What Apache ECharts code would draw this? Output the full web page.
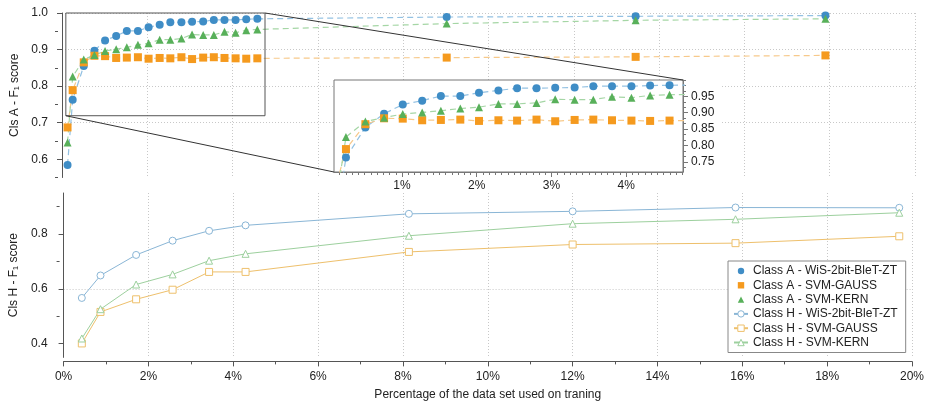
<!DOCTYPE html>
<html><head><meta charset="utf-8">
<script src="https://cdn.jsdelivr.net/npm/echarts@6/dist/echarts.min.js"></script>
<style>html,body{margin:0;padding:0;background:#fff}#c{width:927px;height:406px}</style>
</head><body><div id="c"></div>
<script>
// ---------- data ----------
const seriesNames = [
  'Class A - WiS-2bit-BleT-ZT', 'Class A - SVM-GAUSS', 'Class A - SVM-KERN',
  'Class H - WiS-2bit-BleT-ZT', 'Class H - SVM-GAUSS', 'Class H - SVM-KERN'
];
// Class A (top panel)
const xClassA = [0.13, 0.25, 0.51, 0.76, 1.01, 1.27, 1.52, 1.78, 2.03, 2.29, 2.54, 2.80, 3.05, 3.31, 3.56, 3.81, 4.07, 4.32, 4.58, 9.02, 13.45, 17.90];
const wisA   = [0.584, 0.763, 0.855, 0.897, 0.925, 0.937, 0.951, 0.951, 0.961, 0.968, 0.975, 0.975, 0.976, 0.977, 0.981, 0.981, 0.981, 0.983, 0.984, 0.989, 0.991, 0.993];
const gaussA = [0.687, 0.789, 0.865, 0.883, 0.882, 0.877, 0.878, 0.879, 0.875, 0.877, 0.876, 0.879, 0.874, 0.878, 0.879, 0.877, 0.876, 0.875, 0.876, 0.878, 0.880, 0.884];
const kernA  = [0.646, 0.826, 0.873, 0.885, 0.896, 0.901, 0.906, 0.913, 0.917, 0.927, 0.927, 0.930, 0.941, 0.940, 0.940, 0.949, 0.946, 0.953, 0.955, 0.971, 0.980, 0.984];
// Class H (bottom panel)
const xClassH = [0.43, 0.87, 1.71, 2.57, 3.43, 4.29, 8.14, 12.0, 15.84, 19.7];
const wisH   = [0.567, 0.649, 0.724, 0.776, 0.812, 0.832, 0.874, 0.883, 0.897, 0.896];
const gaussH = [0.401, 0.516, 0.562, 0.597, 0.662, 0.662, 0.735, 0.762, 0.767, 0.792];
const kernH  = [0.419, 0.526, 0.616, 0.653, 0.703, 0.728, 0.794, 0.838, 0.854, 0.878];
// ticks
const topMajorTicks = [0.6, 0.7, 0.8, 0.9, 1.0];
const topMinorTicks = [0.55, 0.65, 0.75, 0.85, 0.95];
const bottomMajorTicks = [0.4, 0.6, 0.8];
const bottomMinorTicks = [0.5, 0.7, 0.9];
const insetXTicks = [1, 2, 3, 4];
const insetYTicks = [0.75, 0.80, 0.85, 0.90, 0.95];
// zoomed region (shown in inset)
const zoomX = [0.09, 4.76];
const zoomY = [0.719, 1.0];

const xTitle = 'Percentage of the data set used on traning';
const yTitleA = 'Cls A - F\u2081 score';
const yTitleH = 'Cls H - F\u2081 score';

// ---------- styles ----------
const FONT = 'Liberation Sans, Arial, Helvetica, sans-serif';
const axisCol = '#555';
const gridLine = {show: true, lineStyle: {color: '#c8c8c8', type: [1, 2], width: 1}};
const colA = [{m: '#3f8dc6', l: '#93c1e2', s: 'circle', z: 8},
              {m: '#f59a1e', l: '#f7c98a', s: 'rect', z: 8},
              {m: '#58b05a', l: '#a5d6a5', s: 'triangle', z: 8}];
const colH = ['#8ab6d6', '#eec06c', '#9dd09e'];
const symH = ['circle', 'rect', 'triangle'];

function minorList(lo, hi, step) {
  const out = [];
  for (let k = Math.ceil(lo / step); k * step <= hi + 1e-9; k++) out.push(+(k * step).toFixed(5));
  return out;
}

const chart = echarts.init(document.getElementById('c'), null, {renderer: 'canvas'});

const pairs = (xs, ys) => xs.map((x, i) => [x, ys[i]]);
const aVals = [wisA, gaussA, kernA];
const hVals = [wisH, gaussH, kernH];

const series = [];
aVals.forEach((v, i) => {
  series.push({
    type: 'line', name: seriesNames[i], xAxisIndex: 0, yAxisIndex: 0,
    data: pairs(xClassA, v), symbol: colA[i].s, symbolSize: colA[i].z,
    itemStyle: {color: colA[i].m},
    lineStyle: {color: colA[i].l, width: 1.2, type: [6, 4]},
    z: 3
  });
});
aVals.forEach((v, i) => {
  series.push({
    type: 'line', name: seriesNames[i], xAxisIndex: 1, yAxisIndex: 2,
    data: pairs(xClassA, v), symbol: colA[i].s, symbolSize: colA[i].z,
    itemStyle: {color: colA[i].m},
    lineStyle: {color: colA[i].l, width: 1.2, type: [6, 4]},
    zlevel: 1, z: 3, clip: true
  });
});
hVals.forEach((v, i) => {
  series.push({
    type: 'line', name: seriesNames[3 + i], xAxisIndex: 3, yAxisIndex: 4,
    data: pairs(xClassH, v), symbol: symH[i], symbolSize: 7,
    itemStyle: {color: '#fff', borderColor: colH[i], borderWidth: 1},
    lineStyle: {color: colH[i], width: 1},
    z: 3
  });
});

const option = {
  animation: false,
  backgroundColor: '#fff',
  textStyle: {fontFamily: FONT},
  grid: [
    {left: 62, top: 13, width: 853, height: 164.5},
    {left: 334, top: 80, width: 349, height: 92, show: true, backgroundColor: 'transparent',
     borderColor: '#777', borderWidth: 1, zlevel: 1, z: 2},
    {left: 62, top: 193, width: 853, height: 164.4}
  ],
  xAxis: [
    {gridIndex: 0, type: 'value', position: 'bottom', min: 0, max: 20, interval: 2,
     axisLine: {show: false}, axisTick: {show: false}, axisLabel: {show: false}, splitLine: gridLine},
    {gridIndex: 1, type: 'value', position: 'bottom', min: zoomX[0], max: zoomX[1], zlevel: 1, z: 2,
     axisLine: {show: true, lineStyle: {color: '#777'}},
     axisTick: {show: true, length: 5, customValues: insetXTicks, lineStyle: {color: '#777'}},
     axisLabel: {customValues: insetXTicks, formatter: '{value}%', color: '#222', fontSize: 12, margin: 8},
     splitLine: {show: false}},
    {gridIndex: 1, type: 'value', position: 'bottom', min: zoomX[0], max: zoomX[1], zlevel: 1, z: 2,
     axisLine: {show: false},
     axisTick: {show: true, length: 3, customValues: minorList(zoomX[0], zoomX[1], 1 / 12), lineStyle: {color: '#777'}},
     axisLabel: {show: false}, splitLine: {show: false}},
    {gridIndex: 2, type: 'value', position: 'bottom', min: 0, max: 20, interval: 2, offset: 4,
     axisLine: {show: true, lineStyle: {color: axisCol}},
     axisTick: {show: true, length: 5, lineStyle: {color: axisCol}},
     minorTick: {show: true, splitNumber: 2, length: 3, lineStyle: {color: axisCol}},
     axisLabel: {formatter: '{value}%', color: '#222', fontSize: 12, margin: 9},
     splitLine: gridLine,
     name: xTitle, nameLocation: 'middle', nameGap: 27,
     nameTextStyle: {fontSize: 12, color: '#222'}}
  ],
  yAxis: [
    {gridIndex: 0, type: 'value', position: 'left', min: 0.55, max: 1.0, splitNumber: 5, offset: 4,
     axisLine: {show: true, lineStyle: {color: axisCol}},
     axisTick: {show: true, length: 5, customValues: topMajorTicks, lineStyle: {color: axisCol}},
     axisLabel: {customValues: topMajorTicks, formatter: v => v.toFixed(1), color: '#222', fontSize: 12, margin: 10},
     splitLine: Object.assign({showMinLine: false, showMaxLine: true}, gridLine),
     name: yTitleA, nameLocation: 'middle', nameGap: 35, nameRotate: 90,
     nameTextStyle: {fontSize: 12, color: '#222'}},
    {gridIndex: 0, type: 'value', position: 'left', min: 0.55, max: 1.0, offset: 4,
     axisLine: {show: false},
     axisTick: {show: true, length: 3, customValues: topMinorTicks, lineStyle: {color: axisCol}},
     axisLabel: {show: false}, splitLine: {show: false}},
    {gridIndex: 1, type: 'value', position: 'right', min: zoomY[0], max: zoomY[1], zlevel: 1, z: 2,
     axisLine: {show: true, lineStyle: {color: '#777'}},
     axisTick: {show: true, length: 5, customValues: insetYTicks, lineStyle: {color: '#777'}},
     axisLabel: {customValues: insetYTicks, formatter: v => v.toFixed(2), color: '#222', fontSize: 12, margin: 8},
     splitLine: {show: false}},
    {gridIndex: 1, type: 'value', position: 'right', min: zoomY[0], max: zoomY[1], zlevel: 1, z: 2,
     axisLine: {show: false},
     axisTick: {show: true, length: 3, customValues: minorList(zoomY[0], zoomY[1], 0.05 / 3), lineStyle: {color: '#777'}},
     axisLabel: {show: false}, splitLine: {show: false}},
    {gridIndex: 2, type: 'value', position: 'left', min: 0.35, max: 0.95, splitNumber: 3, offset: 4,
     axisLine: {show: true, lineStyle: {color: axisCol}},
     axisTick: {show: true, length: 5, customValues: bottomMajorTicks, lineStyle: {color: axisCol}},
     axisLabel: {customValues: bottomMajorTicks, formatter: v => v.toFixed(1), color: '#222', fontSize: 12, margin: 12},
     splitLine: Object.assign({showMinLine: false, showMaxLine: false}, gridLine),
     name: yTitleH, nameLocation: 'middle', nameGap: 35, nameRotate: 90,
     nameTextStyle: {fontSize: 12, color: '#222'}},
    {gridIndex: 2, type: 'value', position: 'left', min: 0.35, max: 0.95, offset: 4,
     axisLine: {show: false},
     axisTick: {show: true, length: 3, customValues: bottomMinorTicks, lineStyle: {color: axisCol}},
     axisLabel: {show: false}, splitLine: {show: false}}
  ],
  legend: {
    orient: 'vertical', left: 728, top: 261,
    padding: [3, 8, 3, 5], itemWidth: 14, itemHeight: 8, itemGap: 0.3,
    backgroundColor: '#fff', borderColor: '#888', borderWidth: 1,
    textStyle: {fontSize: 12, color: '#222', lineHeight: 14},
    data: seriesNames.map((n, i) => i < 3 ? {name: n, lineStyle: {opacity: 0}} : {name: n, itemStyle: {borderWidth: 1}})
  },
  series: series
};
chart.setOption(option);

// zoom indicator + inset decorations, positioned through the axes' scales
const P0 = v => chart.convertToPixel({xAxisIndex: 0, yAxisIndex: 0}, v);
const P1 = v => chart.convertToPixel({xAxisIndex: 1, yAxisIndex: 2}, v);
const rTL = P0([zoomX[0], zoomY[1]]), rBR = P0([zoomX[1], zoomY[0]]);
const iTL = P1([zoomX[0], zoomY[1]]), iBR = P1([zoomX[1], zoomY[0]]);
const topBottom = P0([0, 0.55])[1];
chart.setOption({
  graphic: [
    {type: 'rect', zlevel: 1, z: 0, silent: true,
     shape: {x: iTL[0], y: iTL[1], width: iBR[0] - iTL[0] + 38, height: topBottom - iTL[1]},
     style: {fill: '#fff', stroke: null}},
    {type: 'rect', zlevel: 0, z: 10, silent: true,
     shape: {x: rTL[0], y: rTL[1], width: rBR[0] - rTL[0], height: rBR[1] - rTL[1]},
     style: {fill: null, stroke: '#555', lineWidth: 1}},
    {type: 'line', zlevel: 1, z: 10, silent: true,
     shape: {x1: rBR[0], y1: rTL[1], x2: iBR[0], y2: iTL[1]},
     style: {stroke: '#333', lineWidth: 1}},
    {type: 'line', zlevel: 1, z: 10, silent: true,
     shape: {x1: rTL[0], y1: rBR[1], x2: iTL[0], y2: iBR[1]},
     style: {stroke: '#333', lineWidth: 1}}
  ]
});
</script>
</body></html>
